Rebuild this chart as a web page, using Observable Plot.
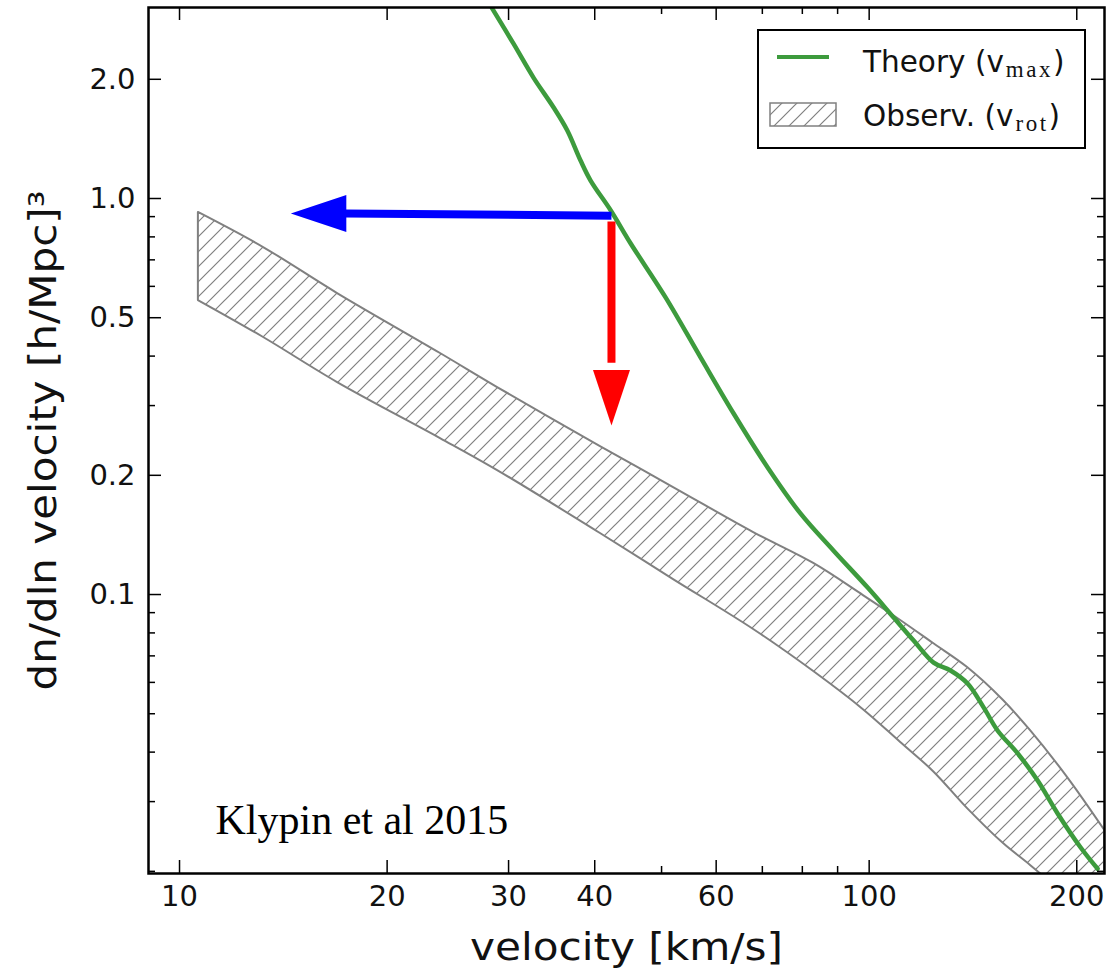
<!DOCTYPE html>
<html><head><meta charset="utf-8">
<script src="https://cdn.jsdelivr.net/npm/d3@7"></script>
<script src="https://cdn.jsdelivr.net/npm/@observablehq/plot@0.6"></script>
<style>body{margin:0;background:#fff}</style>
</head><body><div id="chart"></div>
<script>
// ---- data ----
const theoryV = [28.4, 30.5, 32.6, 34.85, 36.5, 38.15, 39.45, 42.2, 45.1, 50.7, 56.95, 63.6, 71.25, 79.55, 88.8, 99.5, 108.5, 116.0, 124.0, 131.2, 138.9, 146.6, 153.6, 164.2, 175.5, 187.6, 202.6, 214.4];
const theoryN = [3.02, 2.46, 2.02, 1.70, 1.485, 1.247, 1.11, 0.933, 0.770, 0.562, 0.397, 0.2865, 0.2094, 0.160, 0.129, 0.1041, 0.0875, 0.0765, 0.0673, 0.0643, 0.0596, 0.0518, 0.0453, 0.0397, 0.0339, 0.028, 0.02297, 0.0203];
const obsV = [10.65, 13.24, 16.95, 23.9, 28.92, 40.77, 52.04, 68.0, 83.1, 98.1, 111.1, 124.0, 138.9, 156.6, 171.4, 194.0, 219.5];
const obsHigh = [0.922, 0.752, 0.5755, 0.4061, 0.3332, 0.2364, 0.1863, 0.1434, 0.1198, 0.0994, 0.0860, 0.0752, 0.0654, 0.0540, 0.0453, 0.0345, 0.0254];
const obsLow = [0.5526, 0.4457, 0.3430, 0.2477, 0.2056, 0.1426, 0.1091, 0.0816, 0.0639, 0.0512, 0.0423, 0.0357, 0.0288, 0.0235, 0.0207, 0.0172, 0.0142];
const xTicksMajor = [10, 20, 30, 40, 60, 100, 200];
const xTicksMinor = [50, 70, 80, 90];
const yTicksMajor = [2, 1, 0.5, 0.2, 0.1];
const yTicksMinor = [0.9, 0.8, 0.7, 0.6, 0.4, 0.3, 0.09, 0.08, 0.07, 0.06, 0.05, 0.04, 0.03, 0.02];
const xLabel = "velocity [km/s]";
const yLabel = "dn/dln velocity [h/Mpc]³";
const legendLabels = [["Theory (v", "max", ")"], ["Observ. (v", "rot", ")"]];
const citation = "Klypin et al 2015";
// arrows: start point (on the theory curve) and tips
const arrowStart = [42.3, 0.905];
const blueTip = [14.5, 0.917];
const blueHeadBase = 17.4;
const redTip = [42.3, 0.267];
const redHeadBase = 0.385;

// ---- build ----
const W = 1110, H = 968;
const mL = 148, mR = 6, mT = 7, mB = 95;
const pW = W - mL - mR, pH = H - mT - mB;
const green = "#3d9b3d";
const hatchGray = "#808080";

const theory = theoryV.map((v, i) => ({v, n: theoryN[i]}));
const obs = obsV.map((v, i) => ({v, lo: obsLow[i], hi: obsHigh[i]}));

// arrowhead symbol: tip at origin, pointing up
const headSymbol = {
  draw(ctx, size) {
    const r = Math.sqrt(size / Math.PI);
    const L = 1.5 * r, w = r / 2;
    ctx.moveTo(0, 0);
    ctx.lineTo(w, L);
    ctx.lineTo(-w, L);
    ctx.closePath();
  }
};

function defsAndLegend(index, scales, values, dims) {
  const g = d3.create("svg:g");
  const defs = g.append("defs");
  const s = 15;
  const pat = defs.append("pattern").attr("id", "hatch")
    .attr("patternUnits", "userSpaceOnUse").attr("width", s).attr("height", s);
  pat.append("path").attr("d", `M-2,2 L2,-2 M0,${s} L${s},0 M${s-2},${s+2} L${s+2},${s-2}`)
    .attr("stroke", hatchGray).attr("stroke-width", 1.2).attr("fill", "none");

  const bx = dims.width - dims.marginRight - 346;
  const by = dims.marginTop + 23;
  const lg = g.append("g").attr("text-anchor", "start");
  lg.append("rect").attr("x", bx).attr("y", by).attr("width", 327).attr("height", 118)
    .attr("fill", "white").attr("stroke", "black").attr("stroke-width", 2);
  lg.append("line").attr("x1", bx + 19).attr("x2", bx + 71).attr("y1", by + 27).attr("y2", by + 27)
    .attr("stroke", green).attr("stroke-width", 4);
  lg.append("rect").attr("x", bx + 12).attr("y", by + 73).attr("width", 66).attr("height", 23)
    .attr("fill", "url(#hatch)").attr("stroke", hatchGray).attr("stroke-width", 1.5);
  legendLabels.forEach((parts, i) => {
    const t = lg.append("text").attr("x", bx + 105).attr("y", by + 42 + i * 54)
      .attr("font-family", "DejaVu Sans").attr("font-size", 29.5).attr("fill", "#111");
    t.append("tspan").text(parts[0]);
    t.append("tspan").attr("font-family", "Liberation Serif").attr("font-size", 23)
      .attr("letter-spacing", 2.5).attr("dx", 2).attr("dy", 5).text(parts[1]);
    t.append("tspan").attr("dy", -5).text(parts[2]);
  });
  return g.node();
}

const chart = Plot.plot({
  width: W, height: H,
  marginLeft: mL, marginRight: mR, marginTop: mT, marginBottom: mB,
  style: {fontFamily: "DejaVu Sans", background: "white", color: "black"},
  x: {type: "log", domain: [9.016, 219.4], axis: null},
  y: {type: "log", domain: [0.01975, 3.036], axis: null},
  marks: [
    // observed band
    Plot.areaY(obs, {x: "v", y1: "lo", y2: "hi", fill: "url(#hatch)", stroke: hatchGray, strokeWidth: 2, curve: "catmull-rom", clip: true}),
    // theory line
    Plot.line(theory, {x: "v", y: "n", stroke: green, strokeWidth: 4.5, curve: "catmull-rom", clip: true}),
    // arrows
    Plot.link([0], {x1: arrowStart[0], y1: arrowStart[1], x2: blueHeadBase, y2: blueTip[1], stroke: "#0000ff", strokeWidth: 8}),
    Plot.dot([0], {x: blueTip[0], y: blueTip[1], symbol: headSymbol, r: 37, fill: "#0000ff", stroke: "none", rotate: -90}),
    Plot.link([0], {x1: redTip[0], y1: 0.875, x2: redTip[0], y2: redHeadBase, stroke: "#ff0000", strokeWidth: 8}),
    Plot.dot([0], {x: redTip[0], y: redTip[1], symbol: headSymbol, r: 37, fill: "#ff0000", stroke: "none", rotate: 180}),
    // inward ticks
    Plot.ruleX(xTicksMajor, {insetTop: pH - 13, stroke: "black", strokeWidth: 1.5}),
    Plot.ruleX(xTicksMajor, {insetBottom: pH - 13, stroke: "black", strokeWidth: 1.5}),
    Plot.ruleX(xTicksMinor, {insetTop: pH - 7, stroke: "black", strokeWidth: 1.5}),
    Plot.ruleX(xTicksMinor, {insetBottom: pH - 7, stroke: "black", strokeWidth: 1.5}),
    Plot.ruleY(yTicksMajor, {insetRight: pW - 13, stroke: "black", strokeWidth: 1.5}),
    Plot.ruleY(yTicksMajor, {insetLeft: pW - 13, stroke: "black", strokeWidth: 1.5}),
    Plot.ruleY(yTicksMinor, {insetRight: pW - 7, stroke: "black", strokeWidth: 1.5}),
    Plot.ruleY(yTicksMinor, {insetLeft: pW - 7, stroke: "black", strokeWidth: 1.5}),
    // tick labels
    Plot.axisX({ticks: xTicksMajor, tickSize: 0, tickPadding: 12, tickFormat: d3.format("d"), fontSize: 29, label: null, fill: "#111"}),
    Plot.axisY({ticks: yTicksMajor, tickSize: 0, tickPadding: 13, tickFormat: d3.format(".1f"), fontSize: 29, label: null, fill: "#111"}),
    // axis titles
    Plot.text([xLabel], {frameAnchor: "bottom", dy: 86, lineAnchor: "bottom", textAnchor: "middle", fontSize: 37, fill: "#111"}),
    Plot.text([yLabel], {frameAnchor: "left", dx: -104, rotate: -90, textAnchor: "middle", fontSize: 37, fill: "#111"}),
    // citation
    Plot.text([citation], {frameAnchor: "bottom-left", dx: 67, dy: -40, lineAnchor: "bottom", textAnchor: "start", fontSize: 42, fontFamily: "Liberation Serif", fill: "black"}),
    Plot.frame({stroke: "black", strokeWidth: 2.5}),
    defsAndLegend
  ]
});
// stretch axis titles along their length to match the reference proportions
d3.select(chart).selectAll("text")
  .filter(function() { return this.textContent === xLabel; })
  .attr("textLength", 313).attr("lengthAdjust", "spacingAndGlyphs");
d3.select(chart).selectAll("text")
  .filter(function() { return this.textContent === yLabel; })
  .attr("textLength", 500).attr("lengthAdjust", "spacingAndGlyphs");
document.getElementById("chart").appendChild(chart);
</script>
</body></html>
